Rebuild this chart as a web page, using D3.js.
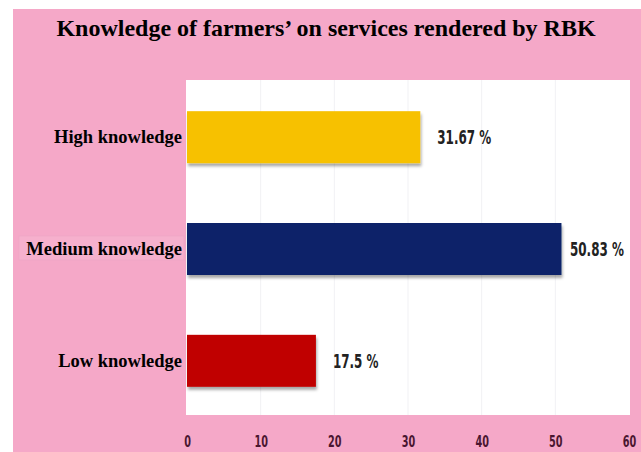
<!DOCTYPE html>
<html>
<head>
<meta charset="utf-8">
<script src="https://cdn.jsdelivr.net/npm/d3@7"></script>
<style>
  body { margin: 0; background: #fff; }
  svg { display: block; }
</style>
</head>
<body>
<div id="chart"></div>
<script>
// chart data
let categories = ['High knowledge', 'Medium knowledge', 'Low knowledge'];
let values = [31.67, 50.83, 17.5];
let valueLabels = ['31.67 %', '50.83 %', '17.5 %'];
let barColors = ['#f7c100', '#0b2369', '#c00000'];
let xTicks = [0, 10, 20, 30, 40, 50, 60];
let title = 'Knowledge of farmers\u2019 on services rendered by RBK';

let width = 641, height = 452;
let plot = { left: 186, right: 630, top: 80, bottom: 415 };
let narrowFont = '"DejaVu Sans Condensed", "Liberation Sans Narrow", sans-serif';

let svg = d3.select('#chart')
    .append('svg')
    .attr('width', width)
    .attr('height', height);

// soft shadow under bars
let defs = svg.append('defs');
defs.append('filter')
    .attr('id', 'shadow')
    .attr('x', '-5%').attr('y', '-20%')
    .attr('width', '110%').attr('height', '150%')
    .append('feDropShadow')
    .attr('dx', 1).attr('dy', 3)
    .attr('stdDeviation', 1.5)
    .attr('flood-color', '#000')
    .attr('flood-opacity', 0.35);

// pink page
svg.append('rect')
    .attr('x', 13).attr('y', 9)
    .attr('width', width - 13).attr('height', height - 9)
    .style('fill', '#f5a8c8');

// white plot area
svg.append('rect')
    .attr('x', plot.left).attr('y', plot.top)
    .attr('width', plot.right - plot.left)
    .attr('height', plot.bottom - plot.top)
    .style('fill', '#fff');

let x = d3.scaleLinear()
    .domain([0, 60])
    .range([187, 629]);

let y = d3.scaleBand()
    .domain(categories)
    .range([81, 417])
    .paddingInner(0.535)
    .paddingOuter(0.27);

// faint grid
svg.append('g')
    .selectAll('line')
    .data(xTicks.slice(1, -1))
    .join('line')
    .attr('x1', d => x(d)).attr('x2', d => x(d))
    .attr('y1', plot.top).attr('y2', plot.bottom)
    .style('stroke', '#f1f1f4')
    .style('stroke-width', 1);

// bars
svg.append('g')
    .selectAll('rect')
    .data(values)
    .join('rect')
    .attr('x', x(0))
    .attr('y', (d, i) => y(categories[i]))
    .attr('width', d => x(d) - x(0))
    .attr('height', y.bandwidth())
    .attr('filter', 'url(#shadow)')
    .style('fill', (d, i) => barColors[i]);

// value labels: condensed by a horizontal scale, kept inside the white area
let kVal = 0.7;
svg.append('g')
    .selectAll('text')
    .data(values)
    .join('text')
    .style('font-family', narrowFont)
    .style('font-weight', 'bold')
    .style('font-size', '19px')
    .style('fill', '#222')
    .text((d, i) => valueLabels[i])
    .attr('transform', function (d, i) {
        let w = this.getComputedTextLength() * kVal;
        let tx = Math.min(x(d) + 17, plot.right - 6 - w);
        let ty = y(categories[i]) + y.bandwidth() / 2 + 7;
        return 'translate(' + tx + ',' + ty + ') scale(' + kVal + ',1)';
    });

// category labels
let catG = svg.append('g');
catG.append('rect')
    .attr('x', 19).attr('y', y('Medium knowledge') + 13)
    .attr('width', 165).attr('height', 24)
    .style('fill', '#f6b0cd')
    .style('stroke', '#eaa3c1')
    .style('stroke-width', 0.5);

catG.selectAll('text')
    .data(categories)
    .join('text')
    .attr('x', 182)
    .attr('y', d => y(d) + y.bandwidth() / 2 + 6)
    .style('text-anchor', 'end')
    .style('font-family', '"Liberation Serif", "Times New Roman", serif')
    .style('font-weight', 'bold')
    .style('font-size', '18.5px')
    .style('fill', '#000')
    .text(d => d);

// x axis
let xAxis = svg.append('g')
    .attr('transform', 'translate(0,' + plot.bottom + ')')
    .call(d3.axisBottom(x).tickValues(xTicks).tickSize(0).tickPadding(21));
xAxis.select('.domain').remove();
xAxis.selectAll('text')
    .attr('transform', 'scale(0.72,1)')
    .style('font-family', narrowFont)
    .style('font-weight', 'bold')
    .style('font-size', '15px')
    .style('fill', '#4a1630');

// title
svg.append('text')
    .attr('x', 326)
    .attr('y', 36)
    .style('text-anchor', 'middle')
    .style('font-family', '"Liberation Serif", "Times New Roman", serif')
    .style('font-weight', 'bold')
    .style('font-size', '24px')
    .style('fill', '#000')
    .text(title);
</script>
</body>
</html>
